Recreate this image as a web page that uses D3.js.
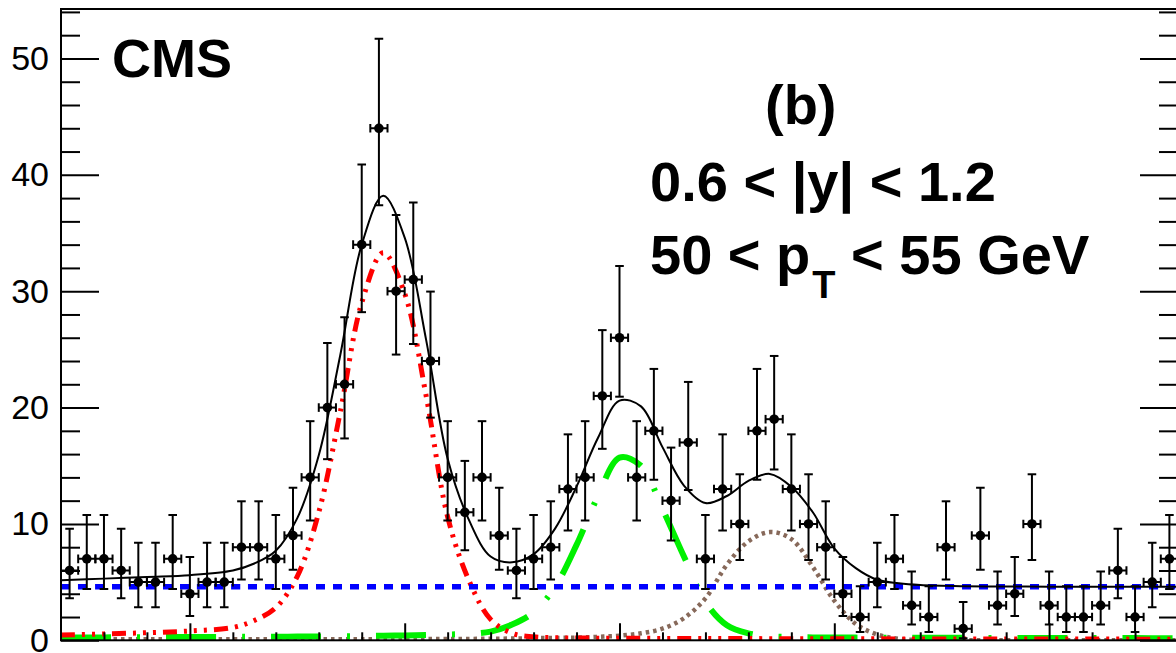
<!DOCTYPE html>
<html>
<head>
<meta charset="utf-8">
<script src="https://cdn.jsdelivr.net/npm/d3@7/dist/d3.min.js"></script>
<style>
  html, body { margin: 0; padding: 0; background: #fff; }
  svg { display: block; font-family: "Liberation Sans", Arial, Helvetica, sans-serif; }
</style>
</head>
<body>
<svg id="chart" width="1176" height="653"></svg>
<script>
// ---------------- data ----------------
const massRange = [8.7, 11.3];
const binWidth = 0.04;
// event counts per 0.04 GeV bin, from 8.70 to 11.30 GeV
const counts = [6, 7, 7, 6, 5, 5, 7, 4, 5, 5, 8, 8, 7, 9, 14, 20, 22, 34, 44, 30,
                31, 24, 14, 11, 14, 9, 6, 7, 8, 13, 14, 21, 26, 14, 18, 12, 17, 7, 13, 10,
                18, 19, 13, 10, 8, 4, 2, 5, 7, 3, 2, 8, 1, 9, 3, 4, 10, 3, 2, 2,
                3, 6, 2, 5, 7];

// fit curves at these masses
const fitMass = [8.70, 8.80, 8.90, 9.00, 9.10, 9.15, 9.20, 9.25, 9.30, 9.35,
                 9.40, 9.45, 9.50, 9.55, 9.60, 9.65, 9.70, 9.75, 9.80, 9.85,
                 9.90, 9.95, 10.00, 10.05, 10.10, 10.15, 10.20, 10.25, 10.30, 10.35,
                 10.40, 10.45, 10.50, 10.55, 10.60, 10.65, 10.70, 10.80, 10.90, 11.00,
                 11.10, 11.20, 11.30];
const fitTotal = [5.15, 5.3, 5.45, 5.6, 6.0, 6.6, 7.7, 10.5, 15.9, 24.5,
                  34.0, 38.2, 34.6, 25.8, 15.6, 10.3, 7.2, 6.7, 7.4, 9.6,
                  13.2, 17.4, 20.6, 20.1, 16.6, 13.3, 11.8, 12.4, 13.7, 14.3,
                  13.2, 11.0, 7.9, 6.2, 5.2, 4.9, 4.75, 4.65, 4.62, 4.61,
                  4.6, 4.6, 4.6];
const fitBkg = [4.6, 4.6, 4.6, 4.6, 4.6, 4.6, 4.6, 4.6, 4.6, 4.6,
                4.6, 4.6, 4.6, 4.6, 4.6, 4.6, 4.6, 4.6, 4.6, 4.6,
                4.6, 4.6, 4.6, 4.6, 4.6, 4.6, 4.6, 4.6, 4.6, 4.6,
                4.6, 4.6, 4.6, 4.6, 4.6, 4.6, 4.6, 4.6, 4.6, 4.6,
                4.6, 4.6, 4.6];
const fitUps1S = [0.45, 0.55, 0.65, 0.8, 1.1, 1.7, 2.8, 5.5, 11.0, 19.6,
                  29.0, 33.3, 29.8, 21.0, 10.6, 5.1, 1.8, 0.6, 0.3, 0.22,
                  0.2, 0.18, 0.17, 0.17, 0.16, 0.16, 0.15, 0.15, 0.15, 0.14,
                  0.14, 0.14, 0.13, 0.13, 0.13, 0.12, 0.12, 0.12, 0.11, 0.11,
                  0.11, 0.1, 0.1];
const fitUps2S = [0.25, 0.25, 0.27, 0.28, 0.3, 0.3, 0.3, 0.32, 0.33, 0.35,
                  0.37, 0.4, 0.42, 0.45, 0.5, 0.55, 0.75, 1.35, 2.4, 4.6,
                  8.2, 12.4, 15.7, 15.0, 11.3, 7.2, 3.3, 1.3, 0.6, 0.35,
                  0.28, 0.25, 0.24, 0.23, 0.22, 0.22, 0.21, 0.21, 0.2, 0.2,
                  0.19, 0.19, 0.18];
const fitUps3S = [0.08, 0.08, 0.09, 0.09, 0.09, 0.1, 0.1, 0.1, 0.1, 0.1,
                  0.1, 0.1, 0.1, 0.11, 0.11, 0.12, 0.13, 0.15, 0.18, 0.2,
                  0.23, 0.3, 0.4, 0.6, 1.0, 1.9, 3.6, 6.5, 8.5, 9.3,
                  8.7, 6.3, 3.4, 1.4, 0.5, 0.12, 0.03, 0.0, 0.0, 0.0,
                  0.0, 0.0, 0.0];

const yMajorTicks = [0, 10, 20, 30, 40, 50];
const yMinorTicks = [2, 4, 6, 8, 12, 14, 16, 18, 22, 24, 26, 28, 32, 34, 36, 38, 42, 44, 46, 48, 52, 54];
const xMajorTicks = [9.0, 9.5, 10.0, 10.5, 11.0];
const xMinorTicks = [8.8, 8.9, 9.1, 9.2, 9.3, 9.4, 9.6, 9.7, 9.8, 9.9, 10.1, 10.2, 10.3, 10.4, 10.6, 10.7, 10.8, 10.9, 11.1, 11.2];

// ---------------- Garwood (Poisson) intervals ----------------
function poissonCdf(n, mu) {
  if (n < 0) return 0;
  let term = Math.exp(-mu), sum = term;
  for (let k = 1; k <= n; k++) { term *= mu / k; sum += term; }
  return sum;
}
function solve(f, target, lo, hi) { // f decreasing in mu
  for (let i = 0; i < 80; i++) {
    const mid = 0.5 * (lo + hi);
    if (f(mid) > target) lo = mid; else hi = mid;
  }
  return 0.5 * (lo + hi);
}
const a2 = 0.158655;
function garwood(n) {
  const up = solve(mu => poissonCdf(n, mu), a2, 0, n + 60);
  const lo = n === 0 ? 0 : solve(mu => poissonCdf(n - 1, mu), 1 - a2, 0, n + 60);
  return [lo, up];
}

// ---------------- chart ----------------
const svg = d3.select("#chart");
const x = d3.scaleLinear().domain(massRange).range([61, 1178]);
const y = d3.scaleLinear().domain([0, 54.25]).range([640.3, 9]);

svg.append("rect").attr("width", 1176).attr("height", 653).attr("fill", "#fff");

svg.append("defs").append("clipPath").attr("id", "plotclip")
  .append("rect").attr("x", x(massRange[0])).attr("y", y(54.25))
  .attr("width", x(massRange[1]) - x(massRange[0])).attr("height", y(0) - y(54.25));

const plot = svg.append("g").attr("clip-path", "url(#plotclip)");

function curveLine(vals) {
  return d3.line()
    .x((d, i) => x(fitMass[i]))
    .y(d => y(d))
    .curve(d3.curveCatmullRom.alpha(0.5))(vals);
}

// components
plot.append("path").attr("d", curveLine(fitUps3S))
  .attr("fill", "none").attr("stroke", "rgb(135,105,90)").attr("stroke-width", 4.5)
  .attr("stroke-dasharray", "3.5,4");
plot.append("path").attr("d", curveLine(fitUps2S))
  .attr("fill", "none").attr("stroke", "rgb(0,240,0)").attr("stroke-width", 6)
  .attr("stroke-dasharray", "50,26,3,26");
plot.append("path").attr("d", curveLine(fitUps1S))
  .attr("fill", "none").attr("stroke", "rgb(255,0,0)").attr("stroke-width", 5)
  .attr("stroke-dasharray", "14,7,3,7,3,7,3,7");
plot.append("path").attr("d", curveLine(fitBkg))
  .attr("fill", "none").attr("stroke", "rgb(0,0,255)").attr("stroke-width", 5.5)
  .attr("stroke-dasharray", "9,8");
plot.append("path").attr("d", curveLine(fitTotal))
  .attr("fill", "none").attr("stroke", "#000").attr("stroke-width", 2);

// data points
const bins = counts.map((n, i) => {
  const c = massRange[0] + binWidth * (i + 0.5);
  const [lo, up] = garwood(n);
  return { c, n, lo, up };
});
const dg = plot.append("g").attr("stroke", "#000").attr("stroke-width", 2);
const cap = 4.3;
bins.forEach(b => {
  const cx = x(b.c), cy = y(b.n);
  const x1 = x(b.c - binWidth / 2), x2 = x(b.c + binWidth / 2);
  const yl = y(b.lo), yu = y(b.up);
  dg.append("line").attr("x1", cx).attr("x2", cx).attr("y1", yl).attr("y2", yu);
  dg.append("line").attr("x1", cx - cap).attr("x2", cx + cap).attr("y1", yu).attr("y2", yu);
  dg.append("line").attr("x1", cx - cap).attr("x2", cx + cap).attr("y1", yl).attr("y2", yl);
  dg.append("line").attr("x1", x1).attr("x2", x2).attr("y1", cy).attr("y2", cy);
  dg.append("line").attr("x1", x1).attr("x2", x1).attr("y1", cy - cap).attr("y2", cy + cap);
  dg.append("line").attr("x1", x2).attr("x2", x2).attr("y1", cy - cap).attr("y2", cy + cap);
});
plot.append("g").selectAll("circle").data(bins).join("circle")
  .attr("cx", d => x(d.c)).attr("cy", d => y(d.n)).attr("r", 4.8).attr("fill", "#000");

// axes / ticks
function styleAxis(g) {
  g.select(".domain").remove();
  g.selectAll(".tick line").attr("stroke", "#000").attr("stroke-width", 2);
  g.selectAll(".tick text").remove();
}
svg.append("g").attr("transform", `translate(${x(massRange[0])},0)`)
  .call(d3.axisRight(y).tickValues(yMajorTicks).tickSize(38)).call(styleAxis);
svg.append("g").attr("transform", `translate(${x(massRange[0])},0)`)
  .call(d3.axisRight(y).tickValues(yMinorTicks).tickSize(19)).call(styleAxis);
svg.append("g").attr("transform", `translate(${x(massRange[1])},0)`)
  .call(d3.axisLeft(y).tickValues(yMajorTicks).tickSize(38)).call(styleAxis);
svg.append("g").attr("transform", `translate(${x(massRange[1])},0)`)
  .call(d3.axisLeft(y).tickValues(yMinorTicks).tickSize(19)).call(styleAxis);
svg.append("g").attr("transform", `translate(0,${y(0)})`)
  .call(d3.axisTop(x).tickValues(xMajorTicks).tickSize(17)).call(styleAxis);
svg.append("g").attr("transform", `translate(0,${y(0)})`)
  .call(d3.axisTop(x).tickValues(xMinorTicks).tickSize(8)).call(styleAxis);

// y labels
const yl = svg.append("g").attr("transform", `translate(${x(massRange[0])},0)`)
  .call(d3.axisLeft(y).tickValues(yMajorTicks).tickSize(0).tickPadding(12).tickFormat(d3.format("d")));
yl.select(".domain").remove();
yl.selectAll(".tick text").attr("font-size", 34).attr("fill", "#000")
  .attr("font-family", "'Liberation Sans', Arial, sans-serif");

// frame
svg.append("rect")
  .attr("x", x(massRange[0])).attr("y", y(54.25))
  .attr("width", x(massRange[1]) - x(massRange[0])).attr("height", y(0) - y(54.25))
  .attr("fill", "none").attr("stroke", "#000").attr("stroke-width", 2);

// texts
svg.append("text").attr("x", 112).attr("y", 77).attr("font-size", 54).attr("font-weight", "bold")
  .text("CMS");
svg.append("text").attr("x", 765).attr("y", 124).attr("font-size", 56).attr("font-weight", "bold")
  .text("(b)");
svg.append("text").attr("x", 650).attr("y", 201).attr("font-size", 56).attr("font-weight", "bold")
  .text("0.6 < |y| < 1.2");
const t3 = svg.append("text").attr("x", 650).attr("y", 274).attr("font-size", 56).attr("font-weight", "bold");
t3.append("tspan").text("50 < p");
t3.append("tspan").attr("font-size", 38).attr("dy", 24).attr("dx", 2).text("T");
t3.append("tspan").attr("dy", -24).attr("dx", 0).text(" < 55 GeV");
</script>
</body>
</html>
